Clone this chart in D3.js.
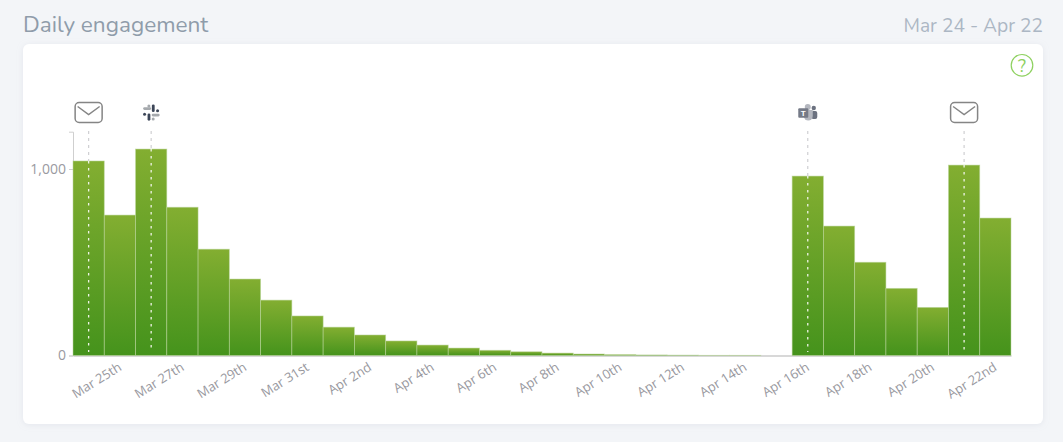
<!DOCTYPE html>
<html><head><meta charset="utf-8">
<script src="https://cdn.jsdelivr.net/npm/d3@7"></script>
<style>
html,body{margin:0;padding:0;background:#f3f5f8;width:1063px;height:442px;overflow:hidden}
svg{display:block}
</style></head><body>
<svg id="c" width="1063" height="442"></svg>
<script>
const days=["Mar 24","Mar 25th","Mar 26","Mar 27th","Mar 28","Mar 29th","Mar 30","Mar 31st","Apr 1","Apr 2nd","Apr 3","Apr 4th","Apr 5","Apr 6th","Apr 7","Apr 8th","Apr 9","Apr 10th","Apr 11","Apr 12th","Apr 13","Apr 14th","Apr 15","Apr 16th","Apr 17","Apr 18th","Apr 19","Apr 20th","Apr 21","Apr 22nd"];
const values=[1043,753,1107,795,570,410,297,212,152,110,78,56,40,28,20,13,8,5,3,2,1,1,0,962,694,500,360,258,1021,737];
const tickLabels=days.filter((d,i)=>i%2===1);
const yTicks=[0,1000];
const annotationDays=["Mar 24","Mar 26","Apr 16th","Apr 21"];
const annotationKinds=["mail","slack","teams","mail"];
const titleText="Daily engagement", rangeText="Mar 24 - Apr 22";

const svg=d3.select("#c");
const defs=svg.append("defs");
const f=defs.append("filter").attr("id","sh").attr("x","-3%").attr("y","-5%").attr("width","106%").attr("height","112%");
f.append("feDropShadow").attr("dx",0).attr("dy",1).attr("stdDeviation",3).attr("flood-color","#aab4c4").attr("flood-opacity",.22);
const g0=defs.append("linearGradient").attr("id","bar").attr("x1",0).attr("y1",0).attr("x2",0).attr("y2",1);
g0.append("stop").attr("offset","0%").attr("stop-color","#83ae31");
g0.append("stop").attr("offset","100%").attr("stop-color","#45931c");

const sans="Nunito,Lato,'Open Sans',sans-serif";
svg.append("text").attr("x",23).attr("y",32).attr("font-family",sans).attr("font-size",22.6).attr("fill","#8f9caa").text(titleText);
svg.append("text").attr("x",1043).attr("y",32).attr("text-anchor","end").attr("font-family",sans).attr("font-size",19.2).attr("fill","#acb7c4").text(rangeText);
svg.append("rect").attr("x",23).attr("y",44).attr("width",1020).attr("height",380).attr("rx",6).attr("fill","#fff").attr("filter","url(#sh)");

const x=d3.scaleBand().domain(days).range([73,1011]).padding(0);
const y=d3.scaleLinear().domain([0,1200]).range([355.5,131.7]);

const yAxis=d3.axisLeft(y).tickValues(yTicks).tickFormat(d3.format(",")).tickSize(4).tickPadding(3);
const ya=svg.append("g").attr("transform","translate(73,0)").call(yAxis);
ya.select(".domain").attr("stroke","#cfcfcf").attr("stroke-width",1);
ya.selectAll(".tick line").attr("stroke","#cfcfcf");
ya.selectAll("text").attr("font-family","'Open Sans',sans-serif").attr("font-size",14).attr("fill","#9a9a9f");

const xAxis=d3.axisBottom(x).tickValues(tickLabels).tickSize(0).tickPadding(0);
const xa=svg.append("g").attr("transform","translate(0,355.5)").call(xAxis);
xa.select(".domain").attr("stroke","#d8d8d8").attr("stroke-width",2);
xa.selectAll("text").attr("font-family","'Open Sans',sans-serif").attr("font-size",13).attr("fill","#98989e")
  .attr("text-anchor","end").attr("dy",0).attr("y",0)
  .attr("transform","translate(2.5,14) rotate(-32)");

svg.append("g").selectAll("rect").data(days).join("rect")
 .attr("x",d=>x(d)).attr("width",x.bandwidth())
 .attr("y",(d,i)=>y(values[i])).attr("height",(d,i)=>y(0)-y(values[i]))
 .attr("fill","url(#bar)").attr("stroke","#bcd69c").attr("stroke-width",.8).attr("stroke-opacity",.65);

const cx=d=>x(d)+x.bandwidth()/2;
svg.append("g").selectAll("line").data(annotationDays).join("line")
 .attr("x1",cx).attr("x2",cx).attr("y1",131).attr("y2",d=>y(values[days.indexOf(d)]))
 .attr("stroke","#cfcfd2").attr("stroke-width",1.2).attr("stroke-dasharray","3 4");
svg.append("g").selectAll("line").data(annotationDays).join("line")
 .attr("x1",cx).attr("x2",cx).attr("y1",d=>y(values[days.indexOf(d)])).attr("y2",352)
 .attr("stroke","#eef3e6").attr("stroke-width",1.3).attr("stroke-dasharray","2.5 4.5");

const icons=svg.append("g").selectAll("g").data(annotationDays).join("g")
 .attr("transform",d=>`translate(${cx(d)},113)`);
icons.each(function(d,i){
  const g=d3.select(this),k=annotationKinds[i];
  if(k==="mail"){
    g.append("rect").attr("x",-13.5).attr("y",-10.5).attr("width",27).attr("height",20).attr("rx",4).attr("fill","#fff").attr("stroke","#858585").attr("stroke-width",1.5);
    g.append("path").attr("d","M-11,-6.5 L0,1.5 L11,-6.5").attr("fill","none").attr("stroke","#858585").attr("stroke-width",1.5);
  } else if(k==="slack"){
    const dark="#3c4658",light="#a5a9ad";
    [[0.7,-8.5,2.8,7.5,dark],[-3.6,0.5,2.8,7.2,dark],[-8,-5.8,8,2.7,light],[0.5,0.7,8,2.7,light]]
      .forEach(p=>g.append("rect").attr("x",p[0]).attr("y",p[1]).attr("width",p[2]).attr("height",p[3]).attr("rx",1.35).attr("fill",p[4]));
    [[-2.3,-7,light],[6.4,-2.3,dark],[-6.6,1.3,dark],[2,6,light]].forEach(p=>g.append("circle").attr("cx",p[0]).attr("cy",p[1]).attr("r",1.5).attr("fill",p[2]));
  } else {
    g.append("circle").attr("cx",6).attr("cy",-5).attr("r",2.2).attr("fill","#6c7280");
    g.append("rect").attr("x",3.5).attr("y",-2).attr("width",6).attr("height",8).attr("rx",2).attr("fill","#6c7280");
    g.append("circle").attr("cx",0).attr("cy",-6).attr("r",3).attr("fill","#b4b7bf");
    g.append("path").attr("d","M-4,-3 H5 V3 A4.5,4.5 0 0 1 -4,3 Z").attr("fill","#b4b7bf");
    g.append("rect").attr("x",-9.5).attr("y",-4.7).attr("width",10).attr("height",9.5).attr("rx",1).attr("fill","#757a87");
    g.append("text").attr("x",-4.5).attr("y",3).attr("text-anchor","middle").attr("font-family","'Liberation Sans',sans-serif").attr("font-weight",700).attr("font-size",8).attr("fill","#fff").text("T");
  }
});

svg.append("circle").attr("cx",1022).attr("cy",65.3).attr("r",10.8).attr("fill","#fff").attr("stroke","#8ed160").attr("stroke-width",1.2);
svg.append("text").attr("x",1022).attr("y",71.5).attr("text-anchor","middle").attr("font-family",sans).attr("font-size",18).attr("fill","#8ed160").text("?");
</script>
</body></html>
